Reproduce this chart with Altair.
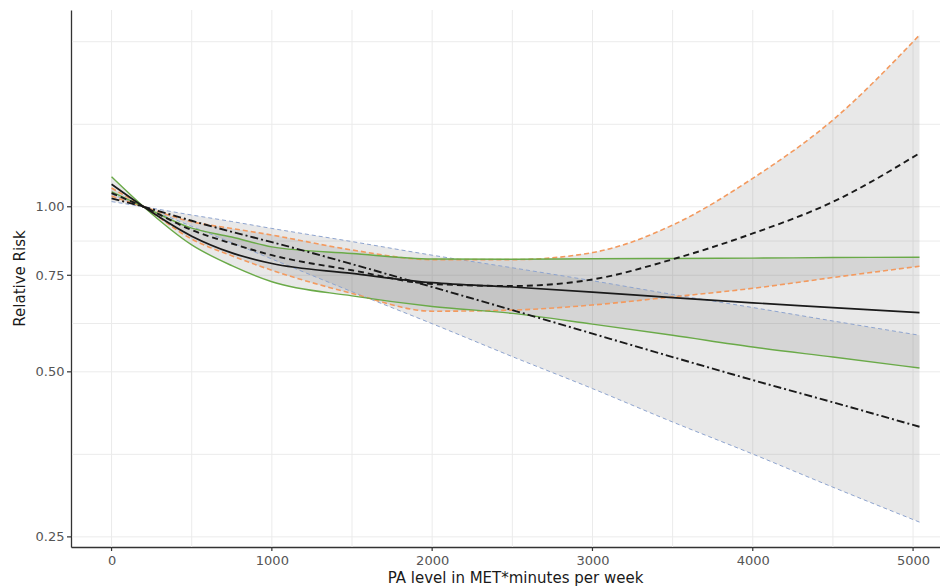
import altair as alt
import pandas as pd

# PA level (MET*minutes per week)
X = [0, 200, 500, 750, 1000, 1500, 2000, 2500, 3000, 3500, 4000, 4500, 5040]

# Model A: black solid line, green CI
black_solid = [1.099, 1.0, 0.884, 0.824, 0.788, 0.756, 0.727, 0.714, 0.699, 0.683, 0.668, 0.655, 0.641]
green_upper = [1.065, 1.0, 0.914, 0.881, 0.845, 0.822, 0.803, 0.802, 0.804, 0.805, 0.806, 0.808, 0.809]
green_lower = [1.134, 1.0, 0.852, 0.781, 0.730, 0.688, 0.658, 0.639, 0.611, 0.583, 0.555, 0.532, 0.508]

# Model B: black dashed line, orange dashed CI
black_dashed = [1.059, 1.0, 0.907, 0.857, 0.816, 0.766, 0.723, 0.717, 0.737, 0.802, 0.894, 1.021, 1.252]
orange_upper = [1.046, 1.0, 0.939, 0.913, 0.888, 0.834, 0.801, 0.801, 0.825, 0.926, 1.127, 1.440, 2.057]
orange_lower = [1.082, 1.0, 0.873, 0.814, 0.766, 0.695, 0.645, 0.648, 0.662, 0.685, 0.710, 0.743, 0.779]

# Model C: black dot-dash line, blue dashed CI
black_dotdash = [1.036, 1.0, 0.943, 0.900, 0.862, 0.786, 0.714, 0.648, 0.587, 0.532, 0.483, 0.440, 0.397]
blue_upper = [1.022, 1.0, 0.966, 0.940, 0.913, 0.864, 0.816, 0.774, 0.733, 0.692, 0.655, 0.619, 0.583]
blue_lower = [1.055, 1.0, 0.921, 0.860, 0.803, 0.700, 0.612, 0.533, 0.466, 0.405, 0.354, 0.308, 0.266]

# axes / grid
X_TICKS = [0, 1000, 2000, 3000, 4000, 5000]
Y_TICKS = [0.25, 0.50, 0.75, 1.00]
GRID_X = [0, 500, 1000, 1500, 2000, 2500, 3000, 3500, 4000, 4500, 5000]
GRID_Y = [0.25, 0.3536, 0.5, 0.6124, 0.75, 0.866, 1.0, 1.414, 2.0]

df = pd.DataFrame({
    "x": X,
    "black_solid": black_solid, "green_upper": green_upper, "green_lower": green_lower,
    "black_dashed": black_dashed, "orange_upper": orange_upper, "orange_lower": orange_lower,
    "black_dotdash": black_dotdash, "blue_upper": blue_upper, "blue_lower": blue_lower,
})
gx = pd.DataFrame({"gx": GRID_X})
gy = pd.DataFrame({"gy": GRID_Y})
tx = pd.DataFrame({"tx": X_TICKS})
ty = pd.DataFrame({"ty": Y_TICKS})

FONT = "DejaVu Sans"
XTITLE = "PA level in MET*minutes per week"
YTITLE = "Relative Risk"
W, H = 869, 537
xscale = alt.Scale(domain=[-253, 5168], nice=False, zero=False)
yscale = alt.Scale(type="log", domain=[0.2396, 2.285], nice=False)

xaxis = alt.Axis(values=X_TICKS, format="d", grid=False, ticks=False, title=XTITLE,
                 domainColor="#333333", domainWidth=1.3,
                 labelColor="#555555", labelFontSize=13, labelFont=FONT, labelPadding=7,
                 titleFont=FONT, titleFontSize=15, titleFontWeight="normal", titleColor="#1a1a1a",
                 titleX=444, titleY=35, titleAlign="center",
                 titleBaseline="alphabetic", labelFlush=False)
yaxis = alt.Axis(values=Y_TICKS, format=".2f", grid=False, ticks=False, title=YTITLE,
                 domainColor="#333333", domainWidth=1.3,
                 labelColor="#555555", labelFontSize=13, labelFont=FONT, labelPadding=7,
                 titleFont=FONT, titleFontSize=15, titleFontWeight="normal", titleColor="#1a1a1a",
                 titleX=-52, titleY=268, titleAngle=270, titleAlign="center",
                 titleBaseline="middle")

XENC = alt.X("x:Q", scale=xscale, axis=xaxis, title=XTITLE)

grid_v = alt.Chart(gx).mark_rule(color="#ebebeb", strokeWidth=1).encode(
    x=alt.X("gx:Q", scale=xscale, axis=xaxis, title=XTITLE),
    y=alt.value(0), y2=alt.value(H))
grid_h = alt.Chart(gy).mark_rule(color="#ebebeb", strokeWidth=1).encode(
    y=alt.Y("gy:Q", scale=yscale, axis=yaxis, title=YTITLE),
    x=alt.value(1), x2=alt.value(W))

# axis tick marks (outside the plot)
tick_x = alt.Chart(tx).mark_rule(color="#333333", strokeWidth=1.2, clip=False).encode(
    x=alt.X("tx:Q", scale=xscale, axis=xaxis, title=XTITLE),
    y=alt.value(H), y2=alt.value(H + 4))
tick_y = alt.Chart(ty).mark_rule(color="#333333", strokeWidth=1.2, clip=False).encode(
    y=alt.Y("ty:Q", scale=yscale, axis=yaxis, title=YTITLE),
    x=alt.value(-4), x2=alt.value(0))

base = alt.Chart(df)


def band(lo, hi):
    return base.mark_area(color="#777777", opacity=0.17, interpolate="monotone").encode(
        x=XENC,
        y=alt.Y(f"{lo}:Q", scale=yscale, axis=yaxis, title=YTITLE),
        y2=alt.Y2(f"{hi}:Q"))


def line(field, color, width, dash=None):
    kw = dict(color=color, strokeWidth=width, interpolate="monotone", clip=True)
    if dash:
        kw["strokeDash"] = dash
    return base.mark_line(**kw).encode(
        x=XENC,
        y=alt.Y(f"{field}:Q", scale=yscale, axis=yaxis, title=YTITLE))


GREEN = "#6aaa48"
ORANGE = "#f39a5f"
BLUE = "#8ea4cf"

chart = alt.layer(
    grid_v, grid_h,
    band("green_lower", "green_upper"),
    band("orange_lower", "orange_upper"),
    band("blue_lower", "blue_upper"),
    line("blue_upper", BLUE, 1.0, [4, 3]),
    line("blue_lower", BLUE, 1.0, [4, 3]),
    line("orange_upper", ORANGE, 1.6, [5, 3]),
    line("orange_lower", ORANGE, 1.6, [5, 3]),
    line("green_upper", GREEN, 1.4),
    line("green_lower", GREEN, 1.4),
    line("black_dotdash", "#1a1a1a", 1.9, [8, 3, 2, 3]),
    line("black_dashed", "#1a1a1a", 1.9, [6, 4]),
    line("black_solid", "#1a1a1a", 1.7),
    tick_x, tick_y,
).properties(
    width=W, height=H,
    padding={"left": 63, "top": 2, "right": 0, "bottom": 41},
    autosize=alt.AutoSizeParams(type="none"),
    background="white",
).configure_view(strokeWidth=0, stroke=None)

chart.save("out.html", embed_options={"renderer": "svg", "actions": False})
